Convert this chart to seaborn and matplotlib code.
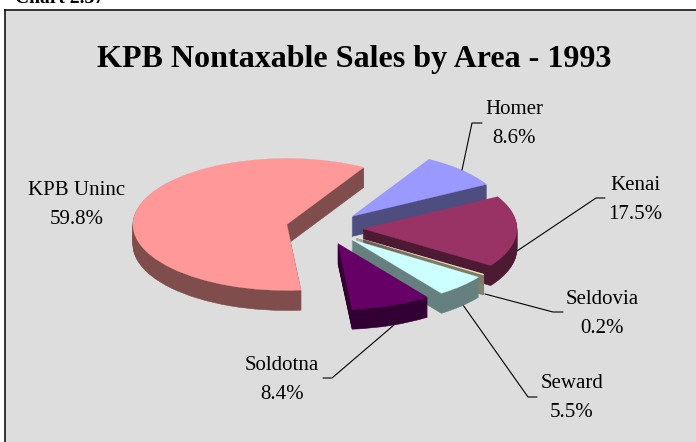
import matplotlib
matplotlib.use("Agg")
import matplotlib.pyplot as plt
from matplotlib.transforms import Affine2D
import seaborn as sns

areas = ["KPB Uninc", "Soldotna", "Seward", "Seldovia", "Kenai", "Homer"]
shares = [59.8, 8.4, 5.5, 0.2, 17.5, 8.6]
top_colors = ["#ff9999", "#660066", "#ccffff", "#ffffcc", "#993366", "#9999ff"]
side_colors = ["#804d4d", "#330033", "#668080", "#80806b", "#4d1a33", "#4d4d80"]
# back to front
draw_rank = [1, 5, 4, 3, 2, 0]

label_pos = [(77, 205), (282, 380), (572, 398), (602, 314), (635, 200), (514, 124)]
leaders = [
    None,
    [(394, 325), (332, 378), (323, 378)],
    [(463, 305), (528, 397), (537, 397)],
    [(485, 294), (553, 312), (563, 312)],
    [(517, 251), (596, 198), (605, 198)],
    [(462, 170), (472, 123), (482, 123)],
]

sns.set_theme(style="white")
plt.rcParams["font.family"] = ["Liberation Serif", "DejaVu Serif"]

fig = plt.figure(figsize=(6.96, 4.42), dpi=100, facecolor="white")
ax = fig.add_axes([5 / 696, 0, 691 / 696, 432 / 442])

# the thick look comes from stacking the same pie a pixel lower each time
depth = 20
for d in range(depth, -1, -1):
    colors = top_colors if d == 0 else side_colors
    wedges, _ = ax.pie(shares, colors=sns.color_palette(colors), explode=[0.25] * 6,
                       startangle=60, center=(0, -d / 66), radius=1,
                       wedgeprops={"linewidth": 0.4 if d else 0.2})
    for i, w in enumerate(wedges):
        w.set_edgecolor(colors[i])
        w.set_zorder(draw_rank[i] * 100 + depth - d)

ax.set_aspect("auto")
ax.set_xlim((5 - 324.5) / 154, (696 - 324.5) / 154)
ax.set_ylim((228 - 442) / 66, (228 - 10) / 66)
ax.set_frame_on(True)
ax.set_facecolor("#dddddd")
sns.despine(ax=ax, top=False, left=False, right=True, bottom=True)
for side in ["left", "top"]:
    ax.spines[side].set_color("black")
    ax.spines[side].set_linewidth(1.1)

# pixel coordinates, y going down, for the annotations
px = Affine2D().scale(1, -1).translate(0, 442)

for i, area in enumerate(areas):
    ax.text(label_pos[i][0], label_pos[i][1], f"{area}\n{shares[i]}%", transform=px,
            ha="center", va="center", fontsize=15, linespacing=1.74, color="black",
            zorder=2000)
    if leaders[i]:
        xs = [p[0] for p in leaders[i]]
        ys = [p[1] for p in leaders[i]]
        ax.plot(xs, ys, color="black", lw=0.8, transform=px, zorder=50)

ax.text(354.5, 60, "KPB Nontaxable Sales by Area - 1993", transform=px, ha="center",
        va="center", fontsize=23.1, fontweight="bold", color="black", zorder=2000)
fig.text(15, 3, "Chart 2.37", transform=px, ha="left", va="baseline", fontsize=14,
         fontweight="bold", color="black")

fig.savefig("out.png", dpi=100)
